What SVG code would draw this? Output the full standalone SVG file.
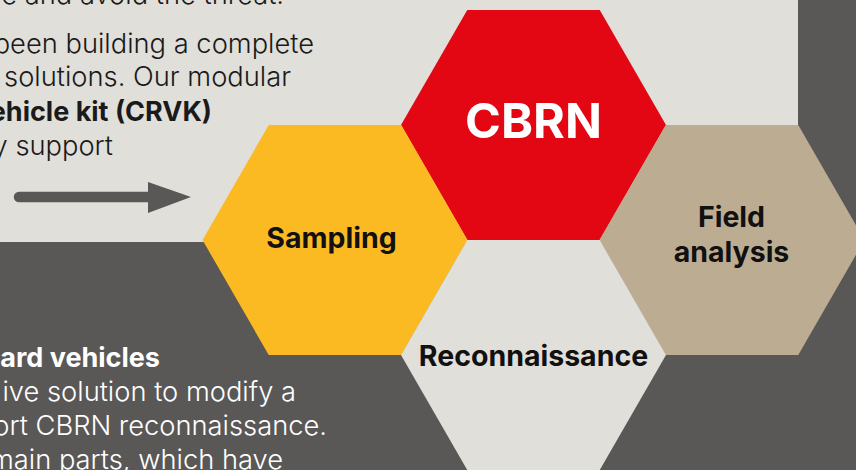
<svg xmlns="http://www.w3.org/2000/svg" width="856" height="470" viewBox="0 0 856 470">
<style>
.body{font-family:Inter,"Liberation Sans",sans-serif;font-weight:300;font-size:27.3px;}
.bodyb{font-family:Inter,"Liberation Sans",sans-serif;font-weight:700;font-size:27px;}
.dark{fill:#1a1a1a;}
.white{fill:#ffffff;}
.lbl{font-family:Inter,"Liberation Sans",sans-serif;font-weight:700;font-size:28.5px;fill:#111111;text-anchor:middle;}
.big{font-family:Inter,"Liberation Sans",sans-serif;font-weight:700;font-size:48.5px;fill:#ffffff;text-anchor:middle;}
</style>
<rect x="0" y="0" width="856" height="470" fill="#5A5857"/>
<rect x="0" y="0" width="798" height="242" fill="#E0DFDA"/>
<g class="body dark" text-anchor="end">
<text x="284" y="4">e and avoid the threat.</text>
<text x="314" y="53">been building a complete</text>
<text x="291" y="86">solutions. Our modular</text>
<text class="bodyb" x="212" y="121">ehicle kit (CRVK)</text>
<text x="113" y="155">y support</text>
</g>
<g class="body white" text-anchor="end">
<text class="bodyb" x="160" y="367">ard vehicles</text>
<text x="296" y="401">ive solution to modify a</text>
<text x="327" y="435">ort CBRN reconnaissance.</text>
<text x="283" y="469">main parts, which have</text>
</g>
<g id="connectors">
<line x1="19" y1="197" x2="150" y2="197" stroke="#5A5857" stroke-width="10.5" stroke-linecap="round"/>
<polygon points="148,182 191,197 148,213" fill="#5A5857"/>
</g>
<g id="cbrn">
<polygon points="401,125 467.25,10 599.75,10 666,125 599.75,240 467.25,240" fill="#E30613"/>
<text class="big" x="533.5" y="138">CBRN</text>
</g>
<g id="sampling">
<polygon points="202.5,240 268.75,125 401.25,125 467.5,240 401.25,355 268.75,355" fill="#FBBA22"/>
<text class="lbl" x="331.5" y="248">Sampling</text>
</g>
<g id="field">
<polygon points="599.5,240 665.75,125 798.25,125 864.5,240 798.25,355 665.75,355" fill="#BCAD92"/>
<text class="lbl" x="731.5" y="227">Field</text>
<text class="lbl" x="731.5" y="262">analysis</text>
</g>
<g id="recon">
<polygon points="401,355 467.25,240 599.75,240 666,355 599.75,470 467.25,470" fill="#E0DFDA"/>
<text class="lbl" x="533.5" y="366">Reconnaissance</text>
</g>
</svg>
